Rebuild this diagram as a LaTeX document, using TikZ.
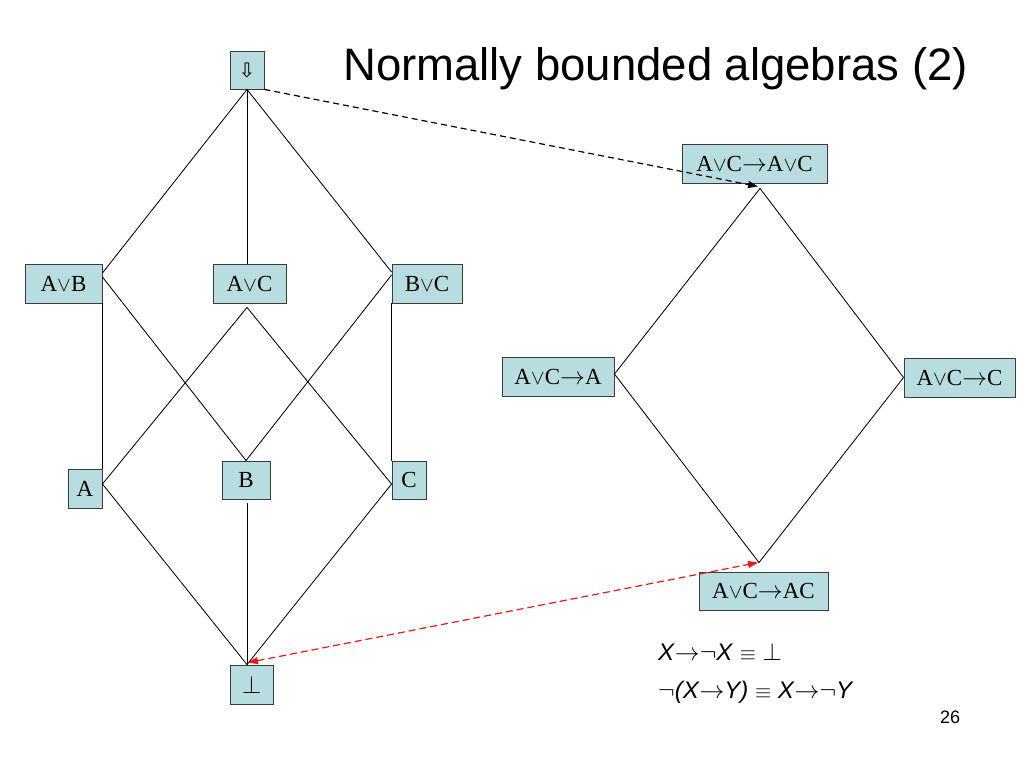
\documentclass[tikz,border=0pt]{standalone}
\usepackage{fontspec}
\setmainfont{Liberation Serif}
\newfontfamily\arialf{Liberation Sans}
\newfontfamily\dejavuf{DejaVu Sans}
\usetikzlibrary{arrows.meta,calc}
\definecolor{boxblue}{RGB}{183,221,224}
\definecolor{boxline}{RGB}{60,60,60}
\definecolor{dred}{RGB}{235,25,25}
\newcommand{\myor}{{\fontsize{20}{22}\selectfont$\vee$}}
\newcommand{\myto}{$\mathord{\rightarrow}$}
\begin{document}
\begin{tikzpicture}[x=1pt,y=-1pt,
  lat/.style={draw=boxline,line width=0.9pt,fill=boxblue,inner sep=0pt,
    font=\fontsize{23}{26}\selectfont},
  edge/.style={line width=0.85pt,draw=black},
  blackdash/.style={line width=1.2pt,draw=black,dash pattern=on 6pt off 4pt},
  reddash/.style={line width=1.2pt,draw=dred,dash pattern=on 7pt off 4pt},
  formula/.style={anchor=base west,inner sep=0pt,font=\arialf\fontsize{24}{28}\selectfont}]
\useasboundingbox[fill=white] (0,0) rectangle (1024,768);

% title and page number
\node[anchor=base west,inner sep=0pt,font=\arialf\fontsize{45.5}{50}\selectfont] (title) at (343,81) {Normally bounded algebras (2)};
\node[anchor=base west,inner sep=0pt,font=\arialf\fontsize{18}{20}\selectfont] (pagenum) at (940,723) {26};

% left lattice
\node[lat,minimum width=34pt,minimum height=38pt] (top) at (247,70) {\dejavuf\fontsize{20}{22}\selectfont ⇩};
\node[lat,minimum width=77pt,minimum height=39pt] (avb) at (63.5,283.5) {A\myor B};
\node[lat,minimum width=73pt,minimum height=39pt] (avc) at (249.5,283.5) {A\myor C};
\node[lat,minimum width=70pt,minimum height=39pt] (bvc) at (427,283.5) {B\myor C};
\node[lat,minimum width=34pt,minimum height=39pt] (a) at (85,488.5) {A};
\node[lat,minimum width=48pt,minimum height=38pt] (b) at (246,480) {B\hspace{14pt}};
\node[lat,minimum width=34pt,minimum height=38pt] (c) at (409,480) {C};
\node[lat,minimum width=43pt,minimum height=39pt] (bot) at (251.5,684.5) {$\perp$};

% right diamond
\node[lat,minimum width=145pt,minimum height=39pt] (aa) at (754.5,163.5) {A\myor C\myto A\myor C\hspace{6pt}};
\node[lat,minimum width=112pt,minimum height=39pt] (aA) at (558,376.5) {A\myor C\myto A};
\node[lat,minimum width=111pt,minimum height=39pt] (aC) at (959.5,377.5) {A\myor C\myto C};
\node[lat,minimum width=129pt,minimum height=38pt] (ac) at (763.5,591) {A\myor C\myto AC};

% connection points
\coordinate (avcb) at ($(avc.south)+(-2.5,4)$);
\coordinate (bb) at ($(b.south)+(1,4)$);
\coordinate (bott) at ($(bot.north)+(-4.5,0)$);
\coordinate (rtop) at ($(aa.south)+(5.5,5)$);
\coordinate (rbot) at ($(ac.north)+(-4.5,-9)$);

% left lattice edges
\draw[edge] (top.south) -- ($(avb.east)+(0,-10.5)$);
\draw[edge] (top.south) -- (top.south |- avc.north);
\draw[edge] (top.south) -- ($(bvc.west)+(0,-11.5)$);
\draw[edge] ($(avb.east)+(0,-6.5)$) -- (b.north);
\draw[edge] (avb.south east) -- (a.north east);
\draw[edge] (avcb) -- ($(a.east)+(0,-4.5)$);
\draw[edge] (avcb) -- ($(c.west)+(0,4)$);
\draw[edge] ($(bvc.west)+(0,-8.5)$) -- (b.north);
\draw[edge] (bvc.south west) -- (c.north west);
\draw[edge] ($(a.east)+(0,-4.5)$) -- (bott);
\draw[edge] (bb) -- (bott);
\draw[edge] ($(c.west)+(0,4)$) -- (bott);

% right diamond edges
\draw[edge] (rtop) -- ($(aA.east)+(0,-2.5)$);
\draw[edge] (rtop) -- (aC.west);
\draw[edge] ($(aA.east)+(0,-2.5)$) -- (rbot);
\draw[edge] (aC.west) -- (rbot);

% dashed links
\draw[blackdash,-{Triangle[length=10pt,width=7pt,fill=black]}] (top.south east) -- ($(rtop)+(-2,-2)$);
\draw[reddash,{Triangle[length=10pt,width=7pt,fill=dred]}-{Triangle[length=10pt,width=7pt,fill=dred]}] ($(bott)+(1,-2)$) -- ($(rbot)+(-1,0)$);

% formulas
\node[formula] (f1) at (658,660) {\textit{X}$\mathord{\rightarrow}\mathord{\neg}$\textit{X} {\fontsize{20}{22}\selectfont$\equiv$} $\perp$};
\node[formula] (f2) at (658,698) {$\mathord{\neg}$\textit{(X}$\mathord{\rightarrow}$\textit{Y)} {\fontsize{20}{22}\selectfont$\equiv$} \textit{X}$\mathord{\rightarrow}\mathord{\neg}$\textit{Y}};
\end{tikzpicture}
\end{document}
